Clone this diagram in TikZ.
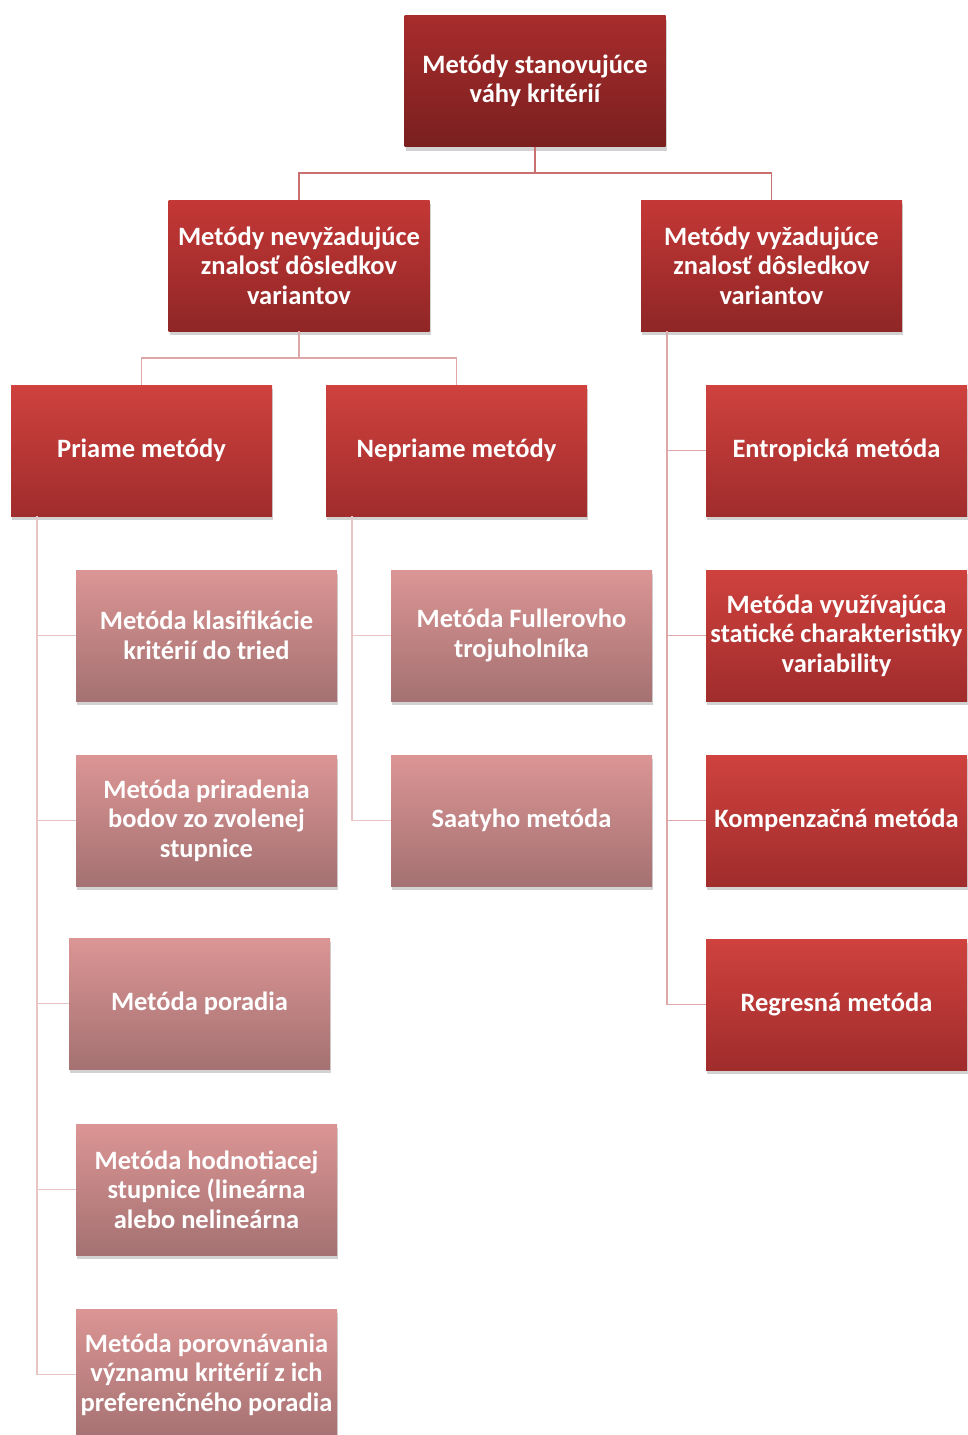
\documentclass[tikz,border=0pt]{standalone}
\usepackage{fontspec}
\setmainfont{Carlito}
\usetikzlibrary{shadows}
\definecolor{czt}{RGB}{168,44,44}
\definecolor{czb}{RGB}{122,31,31}
\definecolor{cat}{RGB}{196,56,54}
\definecolor{cab}{RGB}{143,38,38}
\definecolor{cbt}{RGB}{207,66,62}
\definecolor{cbb}{RGB}{160,44,44}
\definecolor{clt}{RGB}{219,149,148}
\definecolor{clb}{RGB}{165,113,114}
\definecolor{lnA}{RGB}{202,112,112}
\definecolor{lnB}{RGB}{222,168,168}
\definecolor{lnC}{RGB}{232,196,196}
\tikzset{
  box/.style={rectangle, minimum width=261pt, minimum height=131pt, inner sep=0pt,
    align=center, text=white, font=\bfseries\fontsize{26.5}{29.5}\selectfont,
    drop shadow={shadow xshift=1pt, shadow yshift=-4pt, opacity=0.25, fill=black!70}},
  lvlz/.style={box, top color=czt, bottom color=czb},
  lvla/.style={box, top color=cat, bottom color=cab},
  lvlb/.style={box, top color=cbt, bottom color=cbb},
  lvll/.style={box, top color=clt, bottom color=clb},
  conn/.style={line width=1.6pt}
}
\begin{document}
\begin{tikzpicture}[x=1pt,y=-1pt]
\useasboundingbox (0,0) rectangle (968,1435);
\coordinate (j0) at (535,173);
\coordinate (j1) at (299,358);
\coordinate (rv) at (667,331);
\coordinate (pv) at (37,516);
\coordinate (nv) at (352,516);
\node[lvlz] (top) at (535,81) {Metódy stanovujúce\\váhy kritérií};
\node[lvla] (na) at (299,265.5) {Metódy nevyžadujúce\\znalosť dôsledkov\\variantov};
\node[lvla] (nb) at (771.5,265.5) {Metódy vyžadujúce\\znalosť dôsledkov\\variantov};
\node[lvlb] (pr) at (141.5,450.5) {Priame metódy};
\node[lvlb] (ne) at (456.5,450.5) {Nepriame metódy};
\node[lvlb] (r1) at (836.5,450.5) {Entropická metóda};
\node[lvlb] (r2) at (836.5,635.5) {Metóda využívajúca\\statické charakteristiky\\variability};
\node[lvlb] (r3) at (836.5,820.5) {Kompenzačná metóda};
\node[lvlb] (r4) at (836.5,1004.5) {Regresná metóda};
\node[lvll] (p1) at (206.5,635.5) {Metóda klasifikácie\\kritérií do tried};
\node[lvll] (p2) at (206.5,820.5) {Metóda priradenia\\bodov zo zvolenej\\stupnice};
\node[lvll] (p3) at (199.5,1003.5) {Metóda poradia};
\node[lvll] (p4) at (206.5,1189.5) {Metóda hodnotiacej\\stupnice (lineárna\\alebo nelineárna};
\node[lvll] (p5) at (206.5,1374.5) {Metóda porovnávania\\významu kritérií z ich\\preferenčného poradia};
\node[lvll] (n1) at (521.5,635.5) {Metóda Fullerovho\\trojuholníka};
\node[lvll] (n2) at (521.5,820.5) {Saatyho metóda};
\draw[conn, lnA] (top.south) -- (j0) -| (na.north);
\draw[conn, lnA] (j0) -| (nb.north);
\draw[conn, lnB] (na.south) -- (j1) -| (pr.north);
\draw[conn, lnB] (j1) -| (ne.north);
\draw[conn, lnB] (rv) |- (r1.west);
\draw[conn, lnB] (rv) |- (r2.west);
\draw[conn, lnB] (rv) |- (r3.west);
\draw[conn, lnB] (rv) |- (r4.west);
\draw[conn, lnC] (pv) |- (p1.west);
\draw[conn, lnC] (pv) |- (p2.west);
\draw[conn, lnC] (pv) |- (p3.west);
\draw[conn, lnC] (pv) |- (p4.west);
\draw[conn, lnC] (pv) |- (p5.west);
\draw[conn, lnC] (nv) |- (n1.west);
\draw[conn, lnC] (nv) |- (n2.west);
\end{tikzpicture}
\end{document}
